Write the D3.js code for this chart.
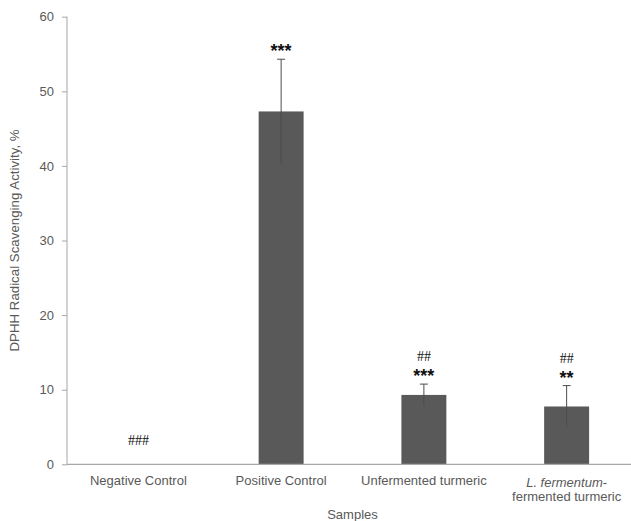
<!DOCTYPE html>
<html>
<head>
<meta charset="utf-8">
<script src="https://cdn.jsdelivr.net/npm/d3@7/dist/d3.min.js"></script>
<style>
  html, body { margin: 0; padding: 0; background: #fff; }
  svg { display: block; font-family: "Liberation Sans", Arial, sans-serif; }
</style>
</head>
<body>
<svg id="chart" width="631" height="521"></svg>
<script>
// Sample groups, mean activity (%) and standard deviation
const categories = ["Negative Control", "Positive Control", "Unfermented turmeric", "L. fermentum-fermented turmeric"];
const values = [0, 47.3, 9.3, 7.75];
const errors = [0, 7.0, 1.45, 2.8];
// Significance marks: vs negative control (stars) and vs positive control (hashes)
const stars = ["", "***", "***", "**"];
const hashes = ["###", "", "##", "##"];
const yTicks = [0, 10, 20, 30, 40, 50, 60];

const svg = d3.select("#chart");
const axisColor = "#a6a6a6";
const textColor = "#595959";

const x = d3.scaleBand().domain(categories).range([67, 638]).paddingInner(0.685).paddingOuter(0.3425);
const y = d3.scaleLinear().domain([0, 60]).range([464.3, 16.7]);

// Y axis
const yAxis = svg.append("g").attr("transform", "translate(67,0)")
  .call(d3.axisLeft(y).tickValues(yTicks).tickSize(5).tickPadding(8));
yAxis.select(".domain").attr("stroke", axisColor).attr("d", `M0,${y(60)}V${y(0)}`);
yAxis.selectAll(".tick line").attr("stroke", axisColor);
yAxis.selectAll(".tick text").attr("fill", textColor).style("font-size", "13px")
  .style("font-family", "Liberation Sans, Arial, sans-serif");

// Bars
svg.append("g").selectAll("rect").data(categories).join("rect")
  .attr("x", d => x(d))
  .attr("width", x.bandwidth())
  .attr("y", (d, i) => y(values[i]))
  .attr("height", (d, i) => y(0) - y(values[i]))
  .attr("fill", "#595959");

// Error bars (symmetric)
const eb = svg.append("g").attr("stroke", "#4d4d4d").attr("stroke-width", 1);
categories.forEach((c, i) => {
  if (!errors[i]) return;
  const cx = x(c) + x.bandwidth() / 2;
  eb.append("line").attr("x1", cx).attr("x2", cx)
    .attr("y1", y(values[i] + errors[i])).attr("y2", y(values[i] - errors[i]));
  eb.append("line").attr("x1", cx - 4).attr("x2", cx + 4)
    .attr("y1", y(values[i] + errors[i])).attr("y2", y(values[i] + errors[i]));
});

// X axis baseline
svg.append("line").attr("x1", 67).attr("x2", 638).attr("y1", y(0)).attr("y2", y(0))
  .attr("stroke", axisColor).attr("stroke-width", 1.2);

// Category labels
const xl = svg.append("g").attr("fill", textColor).style("font-size", "13px").attr("text-anchor", "middle");
categories.forEach((c, i) => {
  const cx = x(c) + x.bandwidth() / 2;
  if (i === 3) {
    const t1 = xl.append("text").attr("x", cx).attr("y", 487);
    t1.append("tspan").style("font-style", "italic").text("L. fermentum");
    t1.append("tspan").text("-");
    xl.append("text").attr("x", cx).attr("y", 501).text("fermented turmeric");
  } else {
    xl.append("text").attr("x", cx).attr("y", 485).text(c);
  }
});

// Significance annotations
const ann = svg.append("g").attr("text-anchor", "middle").attr("fill", "#111");
categories.forEach((c, i) => {
  const cx = x(c) + x.bandwidth() / 2;
  const top = y(values[i] + errors[i]);
  if (stars[i]) {
    ann.append("text").attr("x", cx).attr("y", top - 2)
      .style("font-size", "18px").style("font-weight", "bold").text(stars[i]);
  }
  if (hashes[i]) {
    const hy = stars[i] ? top - 23 : y(0) - 19;
    ann.append("text").attr("x", cx).attr("y", hy)
      .style("font-size", "14px").style("font-family", "Liberation Serif, serif").text(hashes[i]);
  }
});

// Axis titles
svg.append("text").attr("transform", `translate(19,${(y(0) + y(60)) / 2}) rotate(-90)`)
  .attr("text-anchor", "middle").attr("fill", textColor).style("font-size", "13.3px")
  .text("DPHH Radical Scavenging Activity, %");
svg.append("text").attr("x", (67 + 638) / 2).attr("y", 519)
  .attr("text-anchor", "middle").attr("fill", textColor).style("font-size", "13px")
  .text("Samples");
</script>
</body>
</html>
